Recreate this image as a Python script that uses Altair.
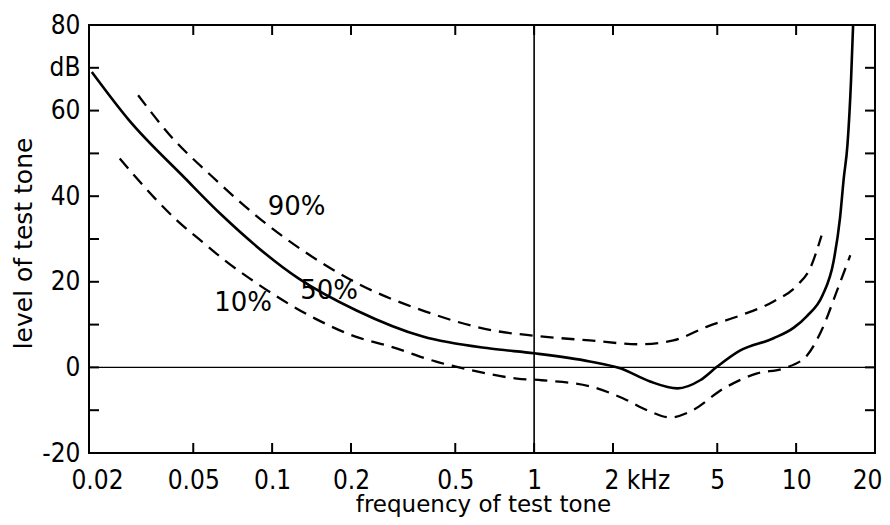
import altair as alt
import pandas as pd

# 50 % curve (solid)
f50 = [0.0205, 0.0282, 0.0465, 0.0642, 0.126, 0.21, 0.376, 0.68, 1.0, 1.63, 2.13, 2.77, 3.52, 4.3, 5.0, 6.1, 8.2, 9.8, 11.0, 12.6, 13.9, 14.7, 15.2, 15.7, 16.2, 16.5]
db50 = [69, 58.0, 44.2, 35.6, 20.8, 13.3, 7.2, 4.4, 3.3, 1.4, -0.2, -3.3, -4.9, -3.0, 0.2, 3.9, 6.8, 9.3, 12.0, 16.8, 24.8, 34.8, 44.2, 52, 67, 80]

# 90 % curve (dashed, upper)
f90 = [0.0308, 0.0408, 0.059, 0.0916, 0.131, 0.212, 0.383, 0.70, 1.0, 1.63, 2.53, 3.4, 4.6, 6.1, 8.2, 10.1, 11.3, 12.5]
db90 = [63.6, 54.2, 44.6, 34.3, 27.3, 19.6, 13.1, 8.6, 7.4, 6.3, 5.4, 6.3, 9.6, 12.1, 15.4, 19.2, 23.1, 30.8]

# 10 % curve (dashed, lower)
f10 = [0.0262, 0.0357, 0.0434, 0.054, 0.066, 0.082, 0.146, 0.208, 0.282, 0.42, 0.58, 0.86, 1.07, 1.63, 2.18, 2.77, 3.3, 3.95, 5.3, 7.1, 9.0, 11.0, 12.6, 14.3, 16.1]
db10 = [48.8, 39.5, 34.3, 29.4, 25.0, 20.8, 11.4, 7.2, 4.9, 1.4, -0.7, -2.6, -3.0, -4.4, -7.2, -10.3, -11.7, -10.3, -4.9, -1.4, -0.2, 2.8, 9.1, 17.8, 26.2]

# curve labels
label_text = ["90%", "50%", "10%"]
label_f = [0.124, 0.165, 0.0775]
label_db = [37.4, 17.8, 15.0]

x_ticks = [0.02, 0.05, 0.1, 0.2, 0.5, 1, 2, 5, 10, 20]
y_ticks = [-20, -10, 0, 10, 20, 30, 40, 50, 60, 70, 80]

W, H = 786, 428
TL = 10  # inward tick length (px)

df_solid = pd.DataFrame({"f": f50, "db": db50, "s": "50%"})
df_dash = pd.concat([
    pd.DataFrame({"f": f90, "db": db90, "s": "90%"}),
    pd.DataFrame({"f": f10, "db": db10, "s": "10%"}),
])
df_lab = pd.DataFrame({"t": label_text, "f": label_f, "db": label_db})
df_one = pd.DataFrame({"f": [1]})
df_xt = pd.DataFrame({"f": x_ticks})
df_yt = pd.DataFrame({"db": y_ticks})

LFONT = "DejaVu Sans Condensed, DejaVu Sans"
TFONT = "DejaVu Sans"
xscale = alt.Scale(type="log", domain=[0.02, 20], nice=False)
yscale = alt.Scale(domain=[-20, 80], nice=False)

NOTICK = dict(ticks=False, tickSize=0, domain=False, grid=False)

x_axis = alt.Axis(
    orient="bottom",
    values=x_ticks,
    labelExpr="datum.value == 2 ? '2 kHz' : toString(datum.value)",
    labelAlign={"condition": [{"test": "datum.value == 2", "value": "left"},
                              {"test": "datum.value == 20", "value": "right"}],
                "value": "center"},
    labelOffset={"condition": [{"test": "datum.value == 2", "value": -9},
                               {"test": "datum.value == 20", "value": 7},
                               {"test": "datum.value == 0.02", "value": 8}],
                 "value": 0},
    labelPadding=14, labelFontSize=26, labelFont=LFONT, labelColor="black",
    title="frequency of test tone", titleFont=TFONT, titleFontSize=23,
    titleFontWeight="normal", titleColor="black",
    titleBaseline="alphabetic", titleX=394, titleY=58,
    labelFlush=False, labelOverlap=False, **NOTICK,
)
y_axis = alt.Axis(
    orient="left",
    values=y_ticks,
    labelExpr="datum.value == 70 ? 'dB' : (datum.value % 20 == 0 ? toString(datum.value) : '')",
    labelPadding=9, labelFontSize=26, labelFont=LFONT, labelColor="black",
    labelOverlap=False,
    title="level of test tone", titleFont=TFONT, titleFontSize=25,
    titleFontWeight="normal", titleColor="black",
    titleBaseline="middle", titleX=-66, titleY=218, titleAngle=-90,
    **NOTICK,
)

solid = alt.Chart(df_solid).mark_line(color="black", strokeWidth=2.6, interpolate="monotone").encode(
    x=alt.X("f:Q", scale=xscale, axis=x_axis),
    y=alt.Y("db:Q", scale=yscale, axis=y_axis),
)
dashed = alt.Chart(df_dash).mark_line(color="black", strokeWidth=2.3, strokeDash=[13, 8],
                                      interpolate="monotone").encode(
    x=alt.X("f:Q", scale=xscale),
    y=alt.Y("db:Q", scale=yscale),
    detail="s:N",
)
hline = alt.Chart(df_one).mark_rule(color="black", strokeWidth=1.3).encode(
    y=alt.Y(datum=0, scale=yscale))
vline = alt.Chart(df_one).mark_rule(color="black", strokeWidth=1.6).encode(
    x=alt.X("f:Q", scale=xscale))
labels = alt.Chart(df_lab).mark_text(font=TFONT, fontSize=26, color="black").encode(
    x=alt.X("f:Q", scale=xscale),
    y=alt.Y("db:Q", scale=yscale),
    text="t:N",
)

# inward tick marks on all four sides
TC = "black"
tick_bottom = alt.Chart(df_xt).mark_rule(color=TC, strokeWidth=2).encode(
    x=alt.X("f:Q", scale=xscale), y=alt.value(H - TL), y2=alt.value(H))
tick_top = alt.Chart(df_xt).mark_rule(color=TC, strokeWidth=2).encode(
    x=alt.X("f:Q", scale=xscale), y=alt.value(0), y2=alt.value(TL))
tick_left = alt.Chart(df_yt).mark_rule(color=TC, strokeWidth=2).encode(
    y=alt.Y("db:Q", scale=yscale), x=alt.value(0), x2=alt.value(TL))
tick_right = alt.Chart(df_yt).mark_rule(color=TC, strokeWidth=2).encode(
    y=alt.Y("db:Q", scale=yscale), x=alt.value(W - TL), x2=alt.value(W))

chart = alt.layer(solid, dashed, hline, vline, labels,
                  tick_bottom, tick_top, tick_left, tick_right).properties(
    width=W, height=H,
    autosize=alt.AutoSizeParams(type="none"),
    padding={"left": 81, "top": 17, "right": 7, "bottom": 64},
    background="white",
).configure_view(stroke="black", strokeWidth=2)

chart.save("out.html", embed_options={"renderer": "svg", "actions": False})
